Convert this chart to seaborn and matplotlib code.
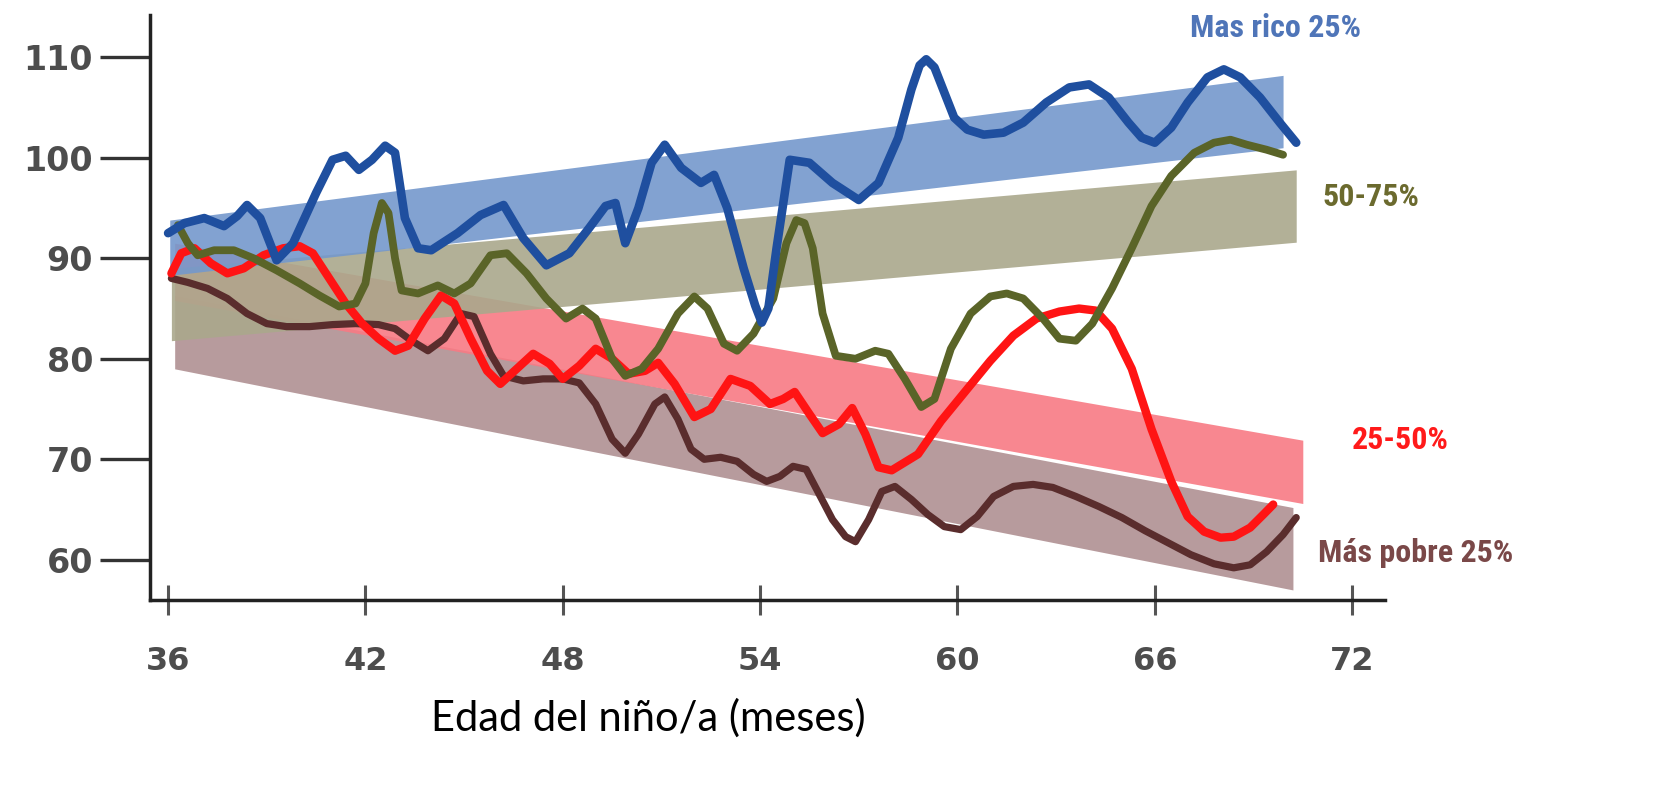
import pandas as pd
import matplotlib.pyplot as plt
import seaborn as sns
from matplotlib import font_manager

# bandas de tendencia (inicio / fin)
band_names = ["Mas rico 25%", "50-75%", "25-50%", "Más pobre 25%"]
band_x0 = [36.05, 36.1, 36.2, 36.2]
band_x1 = [69.9, 70.3, 70.5, 70.2]
band_top0 = [93.8, 89.0, 91.5, 86.3]
band_bot0 = [88.3, 81.8, 85.8, 79.0]
band_top1 = [108.2, 98.8, 71.9, 65.2]
band_bot1 = [101.0, 91.6, 65.6, 57.0]

# Mas rico 25%
rico_x = [36.0, 36.5, 37.1, 37.7, 38.1, 38.4, 38.8, 39.3, 39.8, 40.5, 41.0, 41.4, 41.8, 42.2, 42.6,
          42.9, 43.2, 43.6, 44.0, 44.8, 45.5, 46.2, 46.8, 47.5, 48.2, 48.8, 49.3, 49.6, 49.9,
          50.3, 50.7, 51.1, 51.6, 52.2, 52.6, 53.0, 53.5, 53.85, 54.05, 54.25, 54.5, 54.9, 55.5,
          56.2, 57.0, 57.6, 58.2, 58.6, 58.85, 59.05, 59.3, 59.6, 59.9, 60.3, 60.8, 61.4, 62.0,
          62.7, 63.4, 64.0, 64.6, 65.2, 65.6, 66.0, 66.5, 67.0, 67.6, 68.1, 68.6, 69.2, 69.8, 70.3]
rico_y = [92.5, 93.5, 94.0, 93.2, 94.2, 95.3, 94.0, 89.8, 91.5, 96.5, 99.8, 100.2, 98.8, 99.8, 101.2,
          100.5, 94.0, 91.0, 90.8, 92.5, 94.3, 95.3, 92.0, 89.3, 90.5, 93.0, 95.2, 95.5, 91.5,
          95.0, 99.5, 101.3, 99.0, 97.5, 98.3, 95.0, 89.0, 85.3, 83.6, 85.0, 91.0, 99.8, 99.5,
          97.5, 95.8, 97.5, 102.0, 106.8, 109.2, 109.8, 109.0, 106.5, 104.0, 102.8, 102.3, 102.5, 103.5,
          105.5, 107.0, 107.3, 106.0, 103.5, 102.0, 101.5, 103.0, 105.5, 108.0, 108.8, 108.0, 106.0, 103.5, 101.5]

# 50-75%
medio_alto_x = [36.3, 36.6, 36.9, 37.4, 38.0, 38.6, 39.3, 40.0, 40.6, 41.2, 41.7, 42.0, 42.25, 42.5,
                42.7, 42.9, 43.1, 43.6, 44.2, 44.7, 45.2, 45.8, 46.3, 46.9, 47.5, 48.1, 48.6, 49.0,
                49.5, 49.9, 50.4, 50.9, 51.5, 52.0, 52.4, 52.9, 53.3, 53.8, 54.4, 54.8, 55.1, 55.35,
                55.6, 55.9, 56.3, 56.9, 57.5, 57.9, 58.4, 58.9, 59.3, 59.8, 60.4, 61.0, 61.5, 62.0,
                62.6, 63.1, 63.6, 64.1, 64.7, 65.3, 65.9, 66.5, 67.2, 67.8, 68.3, 68.8, 69.4, 69.9]
medio_alto_y = [93.3, 91.5, 90.3, 90.8, 90.8, 90.0, 88.8, 87.5, 86.3, 85.2, 85.5, 87.5, 92.5, 95.5,
                94.5, 90.0, 86.8, 86.5, 87.3, 86.5, 87.5, 90.3, 90.5, 88.5, 86.0, 84.0, 85.0, 84.0,
                80.0, 78.3, 79.0, 81.0, 84.5, 86.2, 85.0, 81.5, 80.8, 82.5, 86.0, 91.5, 93.8, 93.5,
                91.0, 84.5, 80.3, 80.0, 80.8, 80.5, 78.0, 75.2, 76.0, 81.0, 84.5, 86.2, 86.5, 86.0,
                84.0, 82.0, 81.8, 83.5, 87.0, 91.0, 95.2, 98.2, 100.5, 101.5, 101.8, 101.3, 100.8, 100.3]

# 25-50%
medio_bajo_x = [36.1, 36.4, 36.8, 37.3, 37.8, 38.3, 38.9, 39.5, 40.0, 40.4, 40.9, 41.4, 41.9, 42.4,
                42.9, 43.3, 43.8, 44.3, 44.7, 45.2, 45.7, 46.1, 46.6, 47.1, 47.6, 48.0, 48.5, 49.0,
                49.5, 50.0, 50.5, 50.9, 51.4, 52.0, 52.5, 53.1, 53.7, 54.3, 54.7, 55.05, 55.5, 55.9,
                56.4, 56.8, 57.2, 57.6, 58.0, 58.8, 59.5, 60.3, 61.0, 61.7, 62.4, 63.1, 63.7, 64.2,
                64.7, 65.3, 65.9, 66.5, 67.0, 67.5, 68.0, 68.4, 68.9, 69.3, 69.6]
medio_bajo_y = [88.5, 90.5, 91.0, 89.5, 88.5, 89.0, 90.3, 91.0, 91.2, 90.5, 88.0, 85.5, 83.5, 82.0,
                80.8, 81.3, 84.0, 86.3, 85.5, 82.0, 78.8, 77.5, 79.0, 80.5, 79.5, 78.0, 79.3, 81.0,
                80.0, 78.5, 78.8, 79.6, 77.5, 74.2, 75.0, 78.0, 77.3, 75.5, 76.0, 76.7, 74.5, 72.6,
                73.5, 75.1, 72.5, 69.2, 68.9, 70.5, 73.8, 77.0, 79.8, 82.3, 84.0, 84.7,
                85.0, 84.8, 83.0, 79.0, 73.0, 67.8, 64.3, 62.8, 62.2, 62.3, 63.2, 64.5, 65.5]

# Más pobre 25%
pobre_x = [36.1, 36.6, 37.2, 37.8, 38.4, 39.0, 39.6, 40.3, 41.0, 41.7, 42.4, 42.9, 43.4, 43.9,
           44.4, 44.9, 45.3, 45.8, 46.2, 46.8, 47.4, 48.0, 48.5, 49.0, 49.5, 49.9, 50.3, 50.8,
           51.1, 51.5, 51.9, 52.3, 52.8, 53.3, 53.8, 54.2, 54.6, 55.0, 55.4, 55.8, 56.2, 56.6,
           56.9, 57.3, 57.7, 58.1, 58.6, 59.1, 59.6, 60.1, 60.6, 61.1, 61.7, 62.3, 62.9, 63.6,
           64.3, 65.0, 65.7, 66.4, 67.1, 67.8, 68.4, 68.9, 69.4, 69.9, 70.3]
pobre_y = [88.0, 87.6, 87.0, 86.0, 84.5, 83.5, 83.2, 83.2, 83.4, 83.5, 83.4, 83.0, 81.8, 80.8,
           82.0, 84.5, 84.2, 80.5, 78.3, 77.8, 78.0, 78.0, 77.6, 75.5, 72.0, 70.6, 72.5, 75.5,
           76.2, 74.0, 71.0, 70.0, 70.2, 69.8, 68.5, 67.8, 68.3, 69.3, 69.0, 66.5, 64.0, 62.3,
           61.8, 64.0, 66.8, 67.3, 66.0, 64.5, 63.3, 63.0, 64.3, 66.3, 67.3, 67.5, 67.2, 66.3,
           65.3, 64.2, 62.9, 61.7, 60.5, 59.6, 59.2, 59.5, 60.8, 62.5, 64.2]

x_ticks = [36, 42, 48, 54, 60, 66, 72]
y_ticks = [60, 70, 80, 90, 100, 110]

band_colors = ["#7498cc", "#aaa88c", "#f87a84", "#b09092"]
line_colors = ["#1f4f9f", "#5a6428", "#ff1414", "#5a2d2d"]
line_widths = [6.2, 5.6, 6.0, 5.2]
label_colors = ["#4f75b8", "#6b6a2e", "#ff1a1a", "#7a4848"]

sns.set_style("white")
plt.rcParams['font.family'] = ['DejaVu Sans']

# fuente estrecha para las etiquetas de grupo
names = {f.name for f in font_manager.fontManager.ttflist}
narrow = None
for cand in ['Liberation Sans Narrow', 'Roboto Condensed', 'Open Sans Condensed', 'DejaVu Sans Condensed']:
    if cand in names:
        narrow = cand
        break
if narrow is None:
    label_font = dict(family=['Roboto', 'DejaVu Sans'], fontsize=21)
else:
    label_font = dict(family=[narrow, 'DejaVu Sans'], fontsize=23)

fig = plt.figure(figsize=(16.78, 7.93), dpi=100)
ax = fig.add_axes([0.0894, 0.2434, 0.736, 0.7376])

# bandas: primero la más baja, la azul encima
for i in [3, 2, 1, 0]:
    ax.fill_between([band_x0[i], band_x1[i]], [band_bot0[i], band_bot1[i]],
                    [band_top0[i], band_top1[i]], color=band_colors[i], alpha=0.9, lw=0)

series = [(rico_x, rico_y), (medio_alto_x, medio_alto_y), (medio_bajo_x, medio_bajo_y), (pobre_x, pobre_y)]
for i in [3, 2, 1, 0]:
    df = pd.DataFrame({'x': series[i][0], 'y': series[i][1]})
    sns.lineplot(data=df, x='x', y='y', color=line_colors[i], lw=line_widths[i], sort=False,
                 estimator=None, ax=ax, solid_joinstyle='round', solid_capstyle='round')

ax.set_xlim(35.45, 73.0)
ax.set_ylim(56.0, 114.2)
ax.set_xticks(x_ticks)
ax.set_yticks(y_ticks)
ax.set_xlabel("")
ax.set_ylabel("")
sns.despine(ax=ax)
for s in ['left', 'bottom']:
    ax.spines[s].set_linewidth(2.5)
    ax.spines[s].set_color('#222222')
ax.tick_params(axis='y', left=True, direction='out', length=36, width=2.4, color='#333333', pad=5,
               labelsize=24, labelcolor='#4d4d4d')
ax.tick_params(axis='x', bottom=True, direction='inout', length=22, width=2.2, color='#555555', pad=22,
               labelsize=23, labelcolor='#4d4d4d')
for lab in ax.get_xticklabels() + ax.get_yticklabels():
    lab.set_fontweight('bold')

fig.text(648 / 1678, 1 - 718 / 793, "Edad del niño/a (meses)", ha='center', va='center',
         fontsize=30, family=['Lato', 'DejaVu Sans'], color='black')

label_pos = [(1190, 28), (1322, 197), (1352, 440), (1318, 553)]
for i in range(4):
    fig.text(label_pos[i][0] / 1678, 1 - label_pos[i][1] / 793, band_names[i], ha='left', va='center',
             fontweight='bold', color=label_colors[i], **label_font)

fig.savefig("out.png", dpi=100)
